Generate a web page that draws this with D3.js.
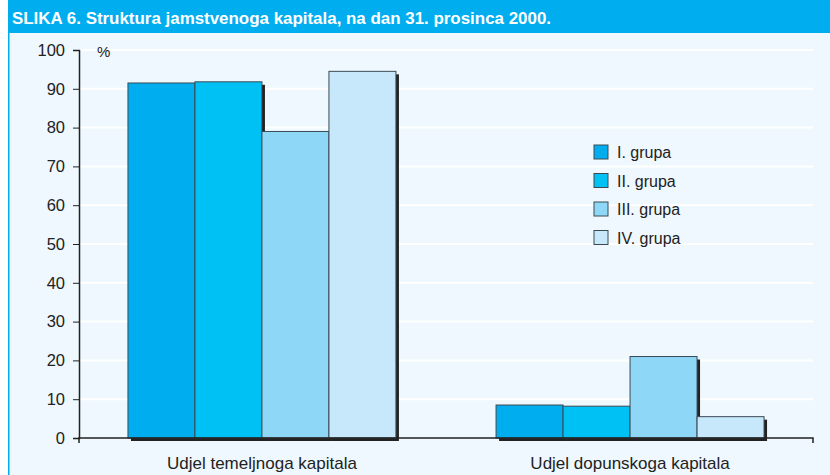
<!DOCTYPE html>
<html>
<head>
<meta charset="utf-8">
<script src="https://cdn.jsdelivr.net/npm/d3@7"></script>
<style>
  body { margin: 0; background: #fff; }
  svg { display: block; font-family: "Liberation Sans", Arial, sans-serif; }
</style>
</head>
<body>
<div id="chart"></div>
<script>
const categories = ["Udjel temeljnoga kapitala", "Udjel dopunskoga kapitala"];
const groups = ["I. grupa", "II. grupa", "III. grupa", "IV. grupa"];
const grupa1 = [91.5, 8.5];
const grupa2 = [91.8, 8.2];
const grupa3 = [79.0, 21.0];
const grupa4 = [94.5, 5.5];
const yTicks = [0, 10, 20, 30, 40, 50, 60, 70, 80, 90, 100];
const colors = ["#00aeef", "#00c1f3", "#8fd7f7", "#c6e8fa"];

const series = [grupa1, grupa2, grupa3, grupa4];
const width = 830, height = 475;

const svg = d3.select("#chart").append("svg")
  .attr("width", width)
  .attr("height", height);

// panel + header
svg.append("rect").attr("x", 8).attr("y", 0).attr("width", width - 8).attr("height", height)
  .attr("fill", "#eef8fe");
svg.append("rect").attr("x", 8).attr("y", 0).attr("width", 1.5).attr("height", height)
  .attr("fill", "#00aeef");
svg.append("rect").attr("x", 8).attr("y", 0).attr("width", width - 8).attr("height", 33)
  .attr("fill", "#00aeef");
svg.append("text")
  .attr("x", 12).attr("y", 24)
  .attr("fill", "#fff")
  .style("font-size", "17px")
  .style("font-weight", "bold")
  .attr("textLength", 539)
  .attr("lengthAdjust", "spacingAndGlyphs")
  .text("SLIKA 6. Struktura jamstvenoga kapitala, na dan 31. prosinca 2000.");

const plotLeft = 79, plotRight = 813, plotTop = 50, plotBottom = 438;

const y = d3.scaleLinear().domain([0, 100]).range([plotBottom, plotTop]);
const x0 = d3.scaleBand().domain(categories).range([plotLeft, plotRight]).paddingInner(0.272).paddingOuter(0.133);
const x1 = d3.scaleBand().domain(groups).range([0, x0.bandwidth()]);

// gridlines
svg.append("g").selectAll("line")
  .data(yTicks.filter((d) => d > 0))
  .enter().append("line")
  .attr("x1", plotLeft).attr("x2", plotRight)
  .attr("y1", (d) => y(d)).attr("y2", (d) => y(d))
  .attr("stroke", "#fff").attr("stroke-width", 2);

// bars with shadow
const g = svg.append("g").selectAll("g")
  .data(categories)
  .enter().append("g")
  .attr("transform", (d) => `translate(${x0(d)},0)`);

g.selectAll("rect.shadow")
  .data((d, i) => groups.map((k, j) => ({ k, v: series[j][i] })))
  .enter().append("rect")
  .attr("class", "shadow")
  .attr("x", (d) => x1(d.k) + 3)
  .attr("y", (d) => y(d.v) + 3)
  .attr("width", x1.bandwidth())
  .attr("height", (d) => plotBottom - y(d.v))
  .attr("fill", "#222");

g.selectAll("rect.bar")
  .data((d, i) => groups.map((k, j) => ({ k, j, v: series[j][i] })))
  .enter().append("rect")
  .attr("class", "bar")
  .attr("x", (d) => x1(d.k))
  .attr("y", (d) => y(d.v))
  .attr("width", x1.bandwidth())
  .attr("height", (d) => plotBottom - y(d.v))
  .attr("fill", (d) => colors[d.j])
  .attr("stroke", "#3a4a55")
  .attr("stroke-width", 1);

// y axis
const yAxis = svg.append("g")
  .attr("transform", `translate(${plotLeft},0)`)
  .call(d3.axisLeft(y).tickValues(yTicks).tickSize(6).tickPadding(8));
yAxis.select(".domain").attr("stroke", "#222").attr("stroke-width", 1.5);
yAxis.selectAll(".tick line").attr("stroke", "#222");
yAxis.selectAll("text").style("font-size", "16.5px").attr("fill", "#222");

// x axis
const xAxis = svg.append("g")
  .attr("transform", `translate(0,${plotBottom})`)
  .call(d3.axisBottom(x0).tickSize(0).tickPadding(19));
xAxis.select(".domain").attr("d", `M${plotLeft},5V0H${plotRight}V5`).attr("stroke", "#222").attr("stroke-width", 1.5);
xAxis.selectAll("text").style("font-size", "17px").attr("fill", "#222");

svg.append("text")
  .attr("x", 97).attr("y", 57)
  .style("font-size", "15px").attr("fill", "#222")
  .text("%");

// legend
const legend = svg.append("g").attr("transform", "translate(594,145)");
const li = legend.selectAll("g").data(groups).enter().append("g")
  .attr("transform", (d, i) => `translate(0,${i * 28.5})`);
li.append("rect")
  .attr("width", 14).attr("height", 14)
  .attr("fill", (d, i) => colors[i])
  .attr("stroke", "#3a4a55");
li.append("text")
  .attr("x", 23).attr("y", 13)
  .style("font-size", "16px").attr("fill", "#222")
  .text((d) => d);
</script>
</body>
</html>
